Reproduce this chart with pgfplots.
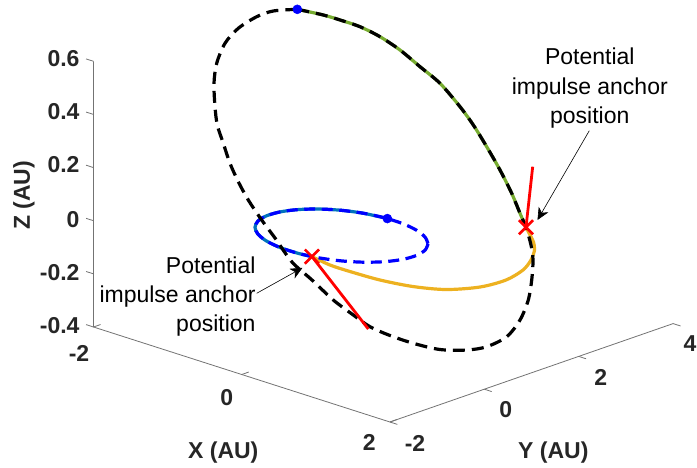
\documentclass[border=0pt]{standalone}
\usepackage{fontspec}
\setmainfont{Liberation Sans}
\usepackage{pgfplots}
\pgfplotsset{compat=1.18}
\usetikzlibrary{calc,arrows.meta}
\definecolor{mblue}{rgb}{0,0.447,0.741}
\definecolor{mgreen}{rgb}{0.466,0.674,0.188}
\definecolor{myellow}{rgb}{0.929,0.694,0.125}
\definecolor{axgray}{rgb}{0.15,0.15,0.15}
\begin{document}
\begin{tikzpicture}
\begin{axis}[
  x={(74.1pt,-23.75pt)}, y={(47.2pt,16.4pt)}, z={(0pt,265.7pt)},
  xmin=-2, xmax=2, ymin=-2, ymax=4, zmin=-0.4, zmax=0.6,
  hide axis, clip=false,
]
% axis lines
\draw[black!55, line width=0.8pt] (axis cs:-2,-2,0.6) -- (axis cs:-2,-2,-0.4) -- (axis cs:2,-2,-0.4) -- (axis cs:2,4,-0.4);
% z ticks
\draw[black!55, line width=0.8pt] (axis cs:-2,-2,0.6) -- (axis cs:-2.1,-2,0.6);
\draw[black!55, line width=0.8pt] (axis cs:-2,-2,0.4) -- (axis cs:-2.1,-2,0.4);
\draw[black!55, line width=0.8pt] (axis cs:-2,-2,0.2) -- (axis cs:-2.1,-2,0.2);
\draw[black!55, line width=0.8pt] (axis cs:-2,-2,0) -- (axis cs:-2.1,-2,0);
\draw[black!55, line width=0.8pt] (axis cs:-2,-2,-0.2) -- (axis cs:-2.1,-2,-0.2);
\draw[black!55, line width=0.8pt] (axis cs:-2,-2,-0.4) -- (axis cs:-2.1,-2,-0.4);
% x ticks
\draw[black!55, line width=0.8pt] (axis cs:-2,-2,-0.4) -- (axis cs:-2,-1.85,-0.4);
\draw[black!55, line width=0.8pt] (axis cs:0,-2,-0.4) -- (axis cs:0,-1.85,-0.4);
\draw[black!55, line width=0.8pt] (axis cs:2,-2,-0.4) -- (axis cs:2,-1.85,-0.4);
% y ticks
\draw[black!55, line width=0.8pt] (axis cs:2,-2,-0.4) -- (axis cs:2.1,-2,-0.4);
\draw[black!55, line width=0.8pt] (axis cs:2,0,-0.4) -- (axis cs:2.1,0,-0.4);
\draw[black!55, line width=0.8pt] (axis cs:2,2,-0.4) -- (axis cs:2.1,2,-0.4);
\draw[black!55, line width=0.8pt] (axis cs:2,4,-0.4) -- (axis cs:2.1,4,-0.4);

% solid trajectory arc on the inner orbit
\addplot3[mblue, line width=3.2pt, smooth] coordinates {
(0.0195,1.0552,0) (-0.251,0.9827,0) (-0.469,0.8506,0) (-0.6522,0.6639,0)
(-0.788,0.4351,0) (-0.8673,0.1801,0) (-0.8847,-0.0839,0) (-0.8388,-0.3388,0)
(-0.733,-0.5674,0) (-0.5744,-0.754,0) (-0.3737,-0.8859,0) (-0.1447,-0.9541,0)
(0.097,-0.9539,0) (0.2571,-0.9157,0)};
% solid trajectory arc on the outer orbit
\addplot3[mgreen, line width=3.2pt, smooth] coordinates {
(0.4574,3.3052,-0.1326) (0.3303,3.3777,-0.0958) (0.1495,3.4857,-0.0434)
(-0.0668,3.5773,0.0194) (-0.2874,3.6419,0.0833) (-0.4957,3.6850,0.1438)
(-0.6768,3.6876,0.1963) (-0.9166,3.6403,0.2658) (-1.1027,3.5088,0.3198)
(-1.2896,3.3784,0.3740) (-1.4496,3.2059,0.4204) (-1.5836,2.9924,0.4592)
(-1.6828,2.7605,0.4880) (-1.7768,2.5182,0.5153) (-1.8932,2.1502,0.5490)};
% transfer arc
\addplot3[myellow, line width=3.2pt, smooth] coordinates {
(0.2571,-0.9157,0) (0.4457,-0.8290,-0.0204) (0.6093,-0.6620,-0.0406)
(0.8349,-0.3807,-0.0697) (1.0385,-0.0010,-0.0995) (1.1871,0.4649,-0.1262)
(1.2524,1.0826,-0.1491) (1.2226,1.6804,-0.1623) (1.1179,2.2048,-0.1664)
(0.9856,2.5820,-0.1639) (0.8394,2.8857,-0.1580) (0.7108,3.0664,-0.1506)
(0.5902,3.1816,-0.1421) (0.4574,3.3052,-0.1326)};
% inner orbit (dashed)
\addplot3[blue, line width=3.2pt, smooth, dash pattern=on 11pt off 6.5pt] coordinates {
(0.817,0.6646,0) (0.9228,0.4360,0) (0.9687,0.1811,0) (0.9513,-0.0829,0)
(0.872,-0.3379,0) (0.7362,-0.5667,0) (0.553,-0.7534,0) (0.335,-0.8855,0)
(0.097,-0.9539,0) (-0.1447,-0.9541,0) (-0.3737,-0.8859,0) (-0.5744,-0.754,0)
(-0.733,-0.5674,0) (-0.8388,-0.3388,0) (-0.8847,-0.0839,0) (-0.8673,0.1801,0)
(-0.788,0.4351,0) (-0.6522,0.6639,0) (-0.469,0.8506,0) (-0.251,0.9827,0)
(-0.013,1.0511,0) (0.2287,1.0513,0) (0.4577,0.9831,0) (0.6584,0.8512,0)
(0.817,0.6646,0)};
% outer orbit (dashed)
\addplot3[black, line width=3.2pt, smooth, dash pattern=on 12pt off 7pt] coordinates {
(-1.8932,2.1502,0.5490) (-1.9457,1.7240,0.5643) (-1.9462,1.3732,0.5644)
(-1.9051,0.9188,0.5525) (-1.8231,0.5082,0.5287) (-1.6878,0.1201,0.4895)
(-1.5372,-0.1736,0.4458) (-1.3495,-0.4470,0.3914) (-1.1986,-0.6353,0.3476)
(-1.0375,-0.7610,0.3009) (-0.8611,-0.8961,0.2497) (-0.6929,-0.9843,0.2009)
(-0.5208,-1.0425,0.1510) (-0.3260,-1.0645,0.0945) (-0.1472,-1.0634,0.0427)
(0.0891,-1.0742,-0.0258) (0.2863,-0.9600,-0.0830) (0.5028,-0.8487,-0.1458)
(0.6762,-0.6972,-0.1961) (0.8146,-0.5606,-0.2362) (0.9390,-0.3322,-0.2723)
(1.0646,-0.0358,-0.3087) (1.1869,0.3379,-0.3442) (1.2642,0.7823,-0.3666)
(1.2930,1.1607,-0.3750) (1.2689,1.6223,-0.3680) (1.1735,2.0540,-0.3403)
(1.0382,2.4421,-0.3011) (0.8895,2.7476,-0.2580) (0.7350,3.0177,-0.2132)
(0.6110,3.1700,-0.1772) (0.4574,3.3052,-0.1326) (0.3303,3.3777,-0.0958)
(0.1495,3.4857,-0.0434) (-0.0668,3.5773,0.0194) (-0.2874,3.6419,0.0833)
(-0.4957,3.6850,0.1438) (-0.6768,3.6876,0.1963) (-0.9166,3.6403,0.2658)
(-1.1027,3.5088,0.3198) (-1.2896,3.3784,0.3740) (-1.4496,3.2059,0.4204)
(-1.5836,2.9924,0.4592) (-1.6828,2.7605,0.4880) (-1.7768,2.5182,0.5153)
(-1.8932,2.1502,0.5490)};
% impulse directions
\addplot3[red, line width=2.8pt] coordinates {(0.2571,-0.9157,0) (1.0435,-0.956,-0.2)};
\addplot3[red, line width=2.8pt] coordinates {(0.4574,3.3052,-0.1326) (0.3537,3.610,0.0674)};
% anchor markers
\addplot3[only marks, mark=x, mark size=10pt, red, line width=2.6pt] coordinates {
(0.2571,-0.9157,0) (0.4574,3.3052,-0.1326)};
% start points
\addplot3[only marks, mark=*, mark size=4.5pt, blue, mark options={fill=blue, line width=0.5pt}] coordinates {
(-1.8932,2.1502,0.5490) (0.0195,1.0552,0)};
\coordinate (c0) at (axis cs:-2,-2,-0.4);
\end{axis}
\pgfresetboundingbox
\coordinate (TL) at ($(c0)+(-93.5pt,327pt)$);
\begin{scope}[shift={(TL)}, x=1pt, y=-1pt]
\path[use as bounding box] (0,0) rectangle (697,468);
\begin{scope}[every node/.style={inner sep=0pt, outer sep=0pt, text=axgray, font=\fontsize{23}{28}\selectfont\bfseries}]
% z tick labels
\node[anchor=east] at (79.5,58.8) {0.6};
\node[anchor=east] at (79.5,111.7) {0.4};
\node[anchor=east] at (79.5,165) {0.2};
\node[anchor=east] at (79.5,220) {0};
\node[anchor=east] at (79.5,272.5) {-0.2};
\node[anchor=east] at (79.5,325.8) {-0.4};
% x tick labels
\node at (79,353.3) {-2};
\node at (226.7,397.5) {0};
\node at (369.2,442.5) {2};
% y tick labels
\node at (415,443.3) {-2};
\node at (505.8,409.2) {0};
\node at (600.8,377.5) {2};
\node[anchor=east] at (696.5,343.3) {4};
% axis labels
\node[anchor=base] at (223.3,458.3) {X (AU)};
\node[anchor=base] at (553.3,458.3) {Y (AU)};
\node[anchor=base, rotate=90] at (30,195.3) {Z (AU)};
\end{scope}
\begin{scope}[every node/.style={inner sep=0pt, outer sep=0pt, text=black, font=\fontsize{23}{28}\selectfont}]
\node[anchor=base east] at (255.5,273.3) {Potential};
\node[anchor=base east] at (255.5,302.6) {impulse anchor};
\node[anchor=base east] at (255.5,331.9) {position};
\node[anchor=base] at (589.8,65) {Potential};
\node[anchor=base] at (589.8,94.3) {impulse anchor};
\node[anchor=base] at (589.8,123.6) {position};
\end{scope}
\draw[black, line width=0.6pt, -{Stealth[length=12pt, width=11pt, inset=3.5pt]}] (256.7,293.3) -- (302.5,267.8);
\draw[black, line width=0.6pt, -{Stealth[length=12pt, width=11pt, inset=3.5pt]}] (589.3,130.7) -- (537.5,220);
\end{scope}
\end{tikzpicture}
\end{document}
